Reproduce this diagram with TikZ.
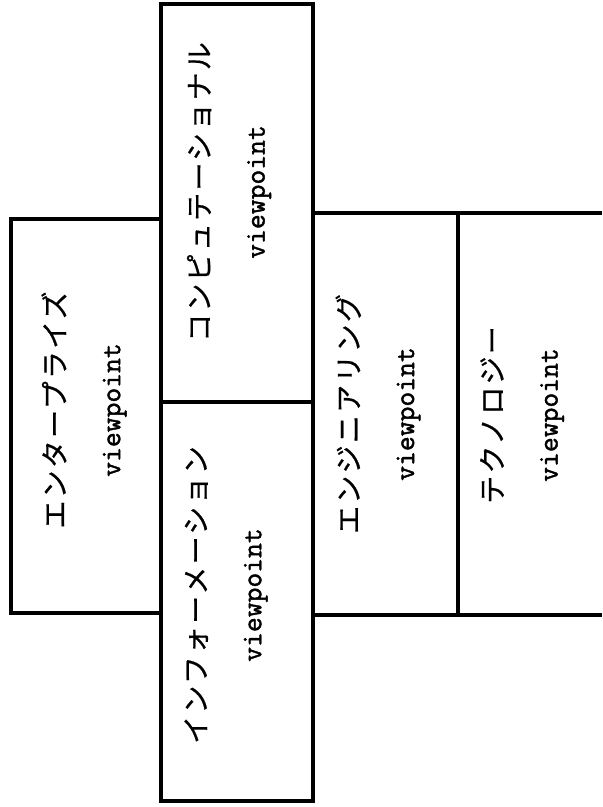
\documentclass[tikz,border=0pt]{standalone}
\usepackage{fontspec}
\newfontfamily\jpfont[LetterSpace=8,FakeBold=0.6]{Noto Sans CJK JP}
\newfontfamily\vpfont[FakeBold=1.5]{Latin Modern Mono}
\newcommand{\vlabel}[2]{{\jpfont #1}\\{\vpfont\fontsize{14.4pt}{27.5pt}\selectfont #2}}
\tikzset{
  frame/.style={line width=1.8pt,line join=miter},
  view/.style={rotate=90,align=center,inner sep=0pt,
    font=\fontsize{14pt}{27.5pt}\selectfont}
}

\begin{document}
\begin{tikzpicture}[x=0.5pt,y=-0.5pt]
        \useasboundingbox (0,0) rectangle (602,807);

        % left and middle blocks
        \draw[frame] (11,219) rectangle (161,613);
        \draw[frame] (161,4) rectangle (313,801);
        \draw[frame] (161,402) -- (313,402);

        % right block, open towards the edge
        \draw[frame] (602,213) -- (313,213) -- (313,615) -- (602,615);
        \draw[frame] (458,213) -- (458,615);

        \path
        (84,410) node[view](ent) {\vlabel{エンタープライズ}{viewpoint}}
        (229,192) node[view](comp) {\vlabel{コンピュテーショナル}{viewpoint}}
        (226,595) node[view](info) {\vlabel{インフォーメーション}{viewpoint}}
        (378,414) node[view](eng) {\vlabel{エンジニアリング}{viewpoint}}
        (522,415) node[view](tech) {\vlabel{テクノロジー}{viewpoint}}
        ;
\end{tikzpicture}
\end{document}
